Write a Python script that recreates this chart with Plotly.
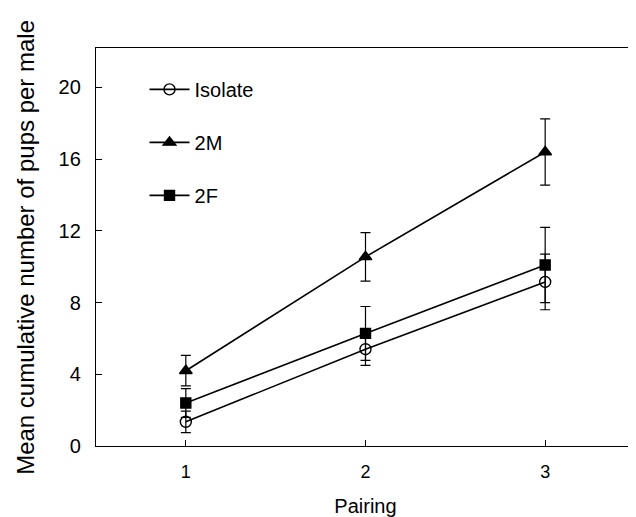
import plotly.graph_objects as go

pairing = [1, 2, 3]
isolate = [1.35, 5.4, 9.15]
isolate_err = [0.6, 0.9, 1.55]
m2 = [4.2, 10.55, 16.4]
m2_err = [0.85, 1.35, 1.85]
f2 = [2.4, 6.28, 10.1]
f2_err = [0.8, 1.5, 2.1]
yticks = [0, 4, 8, 12, 16, 20]
xticks = [1, 2, 3]

font = "Liberation Sans, Arial, sans-serif"

fig = go.Figure()

series = [
    ("Isolate", isolate, isolate_err, "circle-open", 11),
    ("2M", m2, m2_err, "triangle-up", 11),
    ("2F", f2, f2_err, "square", 10),
]
for name, ys, err, sym, sz in series:
    fig.add_trace(go.Scatter(
        x=pairing, y=ys, name=name, mode="lines+markers", legendgroup=name,
        line=dict(color="black", width=1.6),
        marker=dict(symbol=sym, size=sz, color="black",
                    line=dict(color="black", width=1.4)),
        error_y=dict(type="data", array=err, visible=True,
                     color="black", thickness=1.2, width=5),
    ))

fig.update_layout(
    width=628, height=509,
    margin=dict(l=88, r=1, t=40, b=71),
    plot_bgcolor="white", paper_bgcolor="white",
    font=dict(family=font, size=20, color="black"),
    showlegend=True,
    legend=dict(x=0.09, y=0.945, xanchor="left", yanchor="top",
                bgcolor="rgba(0,0,0,0)", font=dict(size=20),
                tracegroupgap=24, itemwidth=40),
    xaxis=dict(range=[0.5, 3.5], tickvals=xticks, ticks="inside", ticklen=6,
               tickcolor="black", showline=True, linecolor="black", linewidth=1.3,
               mirror=True, showgrid=False, zeroline=False,
               ticklabelstandoff=9,
               title=dict(text="Pairing", font=dict(size=20), standoff=18),
               tickfont=dict(size=18)),
    yaxis=dict(range=[0, 22.2], tickvals=yticks, ticks="inside", ticklen=6,
               tickcolor="black", showline=True, linecolor="black", linewidth=1.3,
               mirror=True, showgrid=False, zeroline=False,
               ticklabelstandoff=10,
               tickfont=dict(size=20)),
    annotations=[dict(
        text="Mean cumulative number of pups per male",
        textangle=-90, xref="paper", yref="paper",
        x=-0.132, y=0.5, xanchor="center", yanchor="middle",
        showarrow=False, font=dict(size=24),
    )],
)

fig.write_html("out.html")
